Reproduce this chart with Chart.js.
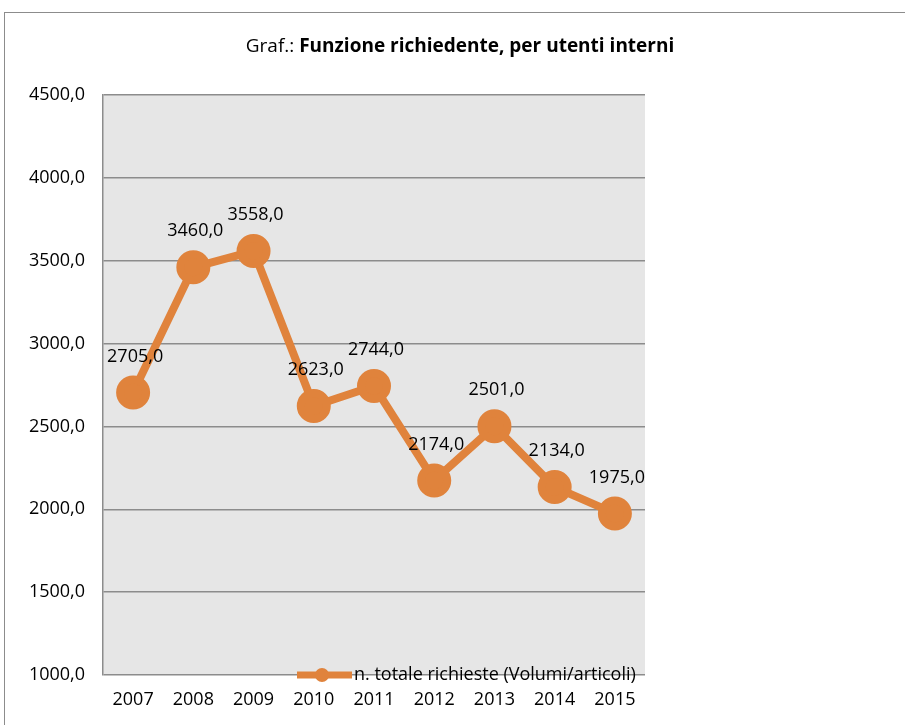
<!DOCTYPE html>
<html>
<head>
<meta charset="utf-8">
<script src="https://cdn.jsdelivr.net/npm/chart.js@4/dist/chart.umd.min.js"></script>
<style>
    html, body { margin: 0; padding: 0; background: #fff; overflow: hidden; }
    #wrap { position: relative; width: 905px; height: 725px; }
    #frame { position: absolute; left: 4px; top: 12px; width: 1000px; height: 800px; border: 1.5px solid #8c8c8c; box-sizing: border-box; }
    canvas { position: absolute; left: 0; top: 0; }
</style>
</head>
<body>
<div id="wrap">
    <div id="frame"></div>
    <canvas id="lineChart" width="905" height="725"></canvas>
</div>
<script>
// dati del grafico
const years = ['2007', '2008', '2009', '2010', '2011', '2012', '2013', '2014', '2015'];
const richieste = [2705, 3460, 3558, 2623, 2744, 2174, 2501, 2134, 1975];
const yTicks = [1000, 1500, 2000, 2500, 3000, 3500, 4000, 4500];
const seriesLabel = 'n. totale richieste (Volumi/articoli)';
const titlePrefix = 'Graf.: ';
const titleBold = 'Funzione richiedente, per utenti interni';

const orange = '#E0833C';
const font = '"Open Sans", "Noto Sans", sans-serif';

function fmt(v) {
    return v.toFixed(1).replace('.', ',');
}

// sfondo grigio, titolo, etichette e legenda
const extras = {
    id: 'extras',
    beforeDraw(chart) {
        const a = chart.chartArea;
        const ctx = chart.ctx;
        ctx.save();
        ctx.fillStyle = '#e6e6e6';
        ctx.fillRect(a.left, a.top, a.right - a.left, a.bottom - a.top);
        ctx.restore();
    },
    afterDraw(chart) {
        const ctx = chart.ctx;
        const a = chart.chartArea;
        ctx.save();

        // titolo
        ctx.textBaseline = 'middle';
        ctx.fillStyle = '#000';
        ctx.font = '19px ' + font;
        const w1 = ctx.measureText(titlePrefix).width;
        ctx.font = 'bold 19px ' + font;
        const w2 = ctx.measureText(titleBold).width;
        let x = 460 - (w1 + w2) / 2;
        ctx.textAlign = 'left';
        ctx.font = '19px ' + font;
        ctx.fillText(titlePrefix, x, 47);
        ctx.font = 'bold 19px ' + font;
        ctx.fillText(titleBold, x + w1, 47);

        // etichette dei valori
        const meta = chart.getDatasetMeta(0);
        ctx.font = '18px ' + font;
        ctx.textAlign = 'center';
        meta.data.forEach((pt, i) => {
            ctx.fillText(fmt(richieste[i]), pt.x + 2, pt.y - 36);
        });

        // legenda
        const ly = a.bottom;
        const lx = 297;
        ctx.strokeStyle = orange;
        ctx.lineWidth = 7;
        ctx.beginPath();
        ctx.moveTo(lx, ly);
        ctx.lineTo(lx + 55, ly);
        ctx.stroke();
        ctx.fillStyle = orange;
        ctx.beginPath();
        ctx.arc(lx + 25, ly, 7, 0, Math.PI * 2);
        ctx.fill();
        ctx.fillStyle = '#000';
        ctx.textAlign = 'left';
        ctx.font = '18px ' + font;
        ctx.fillText(seriesLabel, lx + 57, ly);
        ctx.restore();
    }
};

const ctx = document.getElementById('lineChart').getContext('2d');
new Chart(ctx, {
    type: 'line',
    data: {
        labels: years,
        datasets: [{
            label: seriesLabel,
            data: richieste,
            borderColor: orange,
            backgroundColor: orange,
            borderWidth: 8,
            pointRadius: 13,
            pointHoverRadius: 13,
            tension: 0
        }]
    },
    options: {
        responsive: false,
        animation: false,
        layout: {
            padding: { top: 95, right: 260, bottom: 0, left: 0 }
        },
        scales: {
            x: {
                offset: true,
                grid: { display: false, drawTicks: false },
                border: { display: false },
                ticks: { color: '#000', font: { family: font, size: 18 }, padding: 14, maxRotation: 0 },
                afterFit: function(scale) { scale.height = 50; }
            },
            y: {
                min: 1000,
                max: 4500,
                afterBuildTicks: function(scale) {
                    scale.ticks = yTicks.map(v => ({ value: v }));
                },
                grid: { color: '#8c8c8c', lineWidth: 1.5, drawTicks: false },
                border: { display: true, color: '#8c8c8c', width: 1.5 },
                ticks: {
                    color: '#000',
                    font: { family: font, size: 18 },
                    padding: 18,
                    callback: function(value) { return fmt(value); }
                },
                afterFit: function(scale) { scale.width = 103; }
            }
        },
        plugins: {
            legend: { display: false },
            tooltip: { enabled: false }
        }
    },
    plugins: [extras]
});
</script>
</body>
</html>
